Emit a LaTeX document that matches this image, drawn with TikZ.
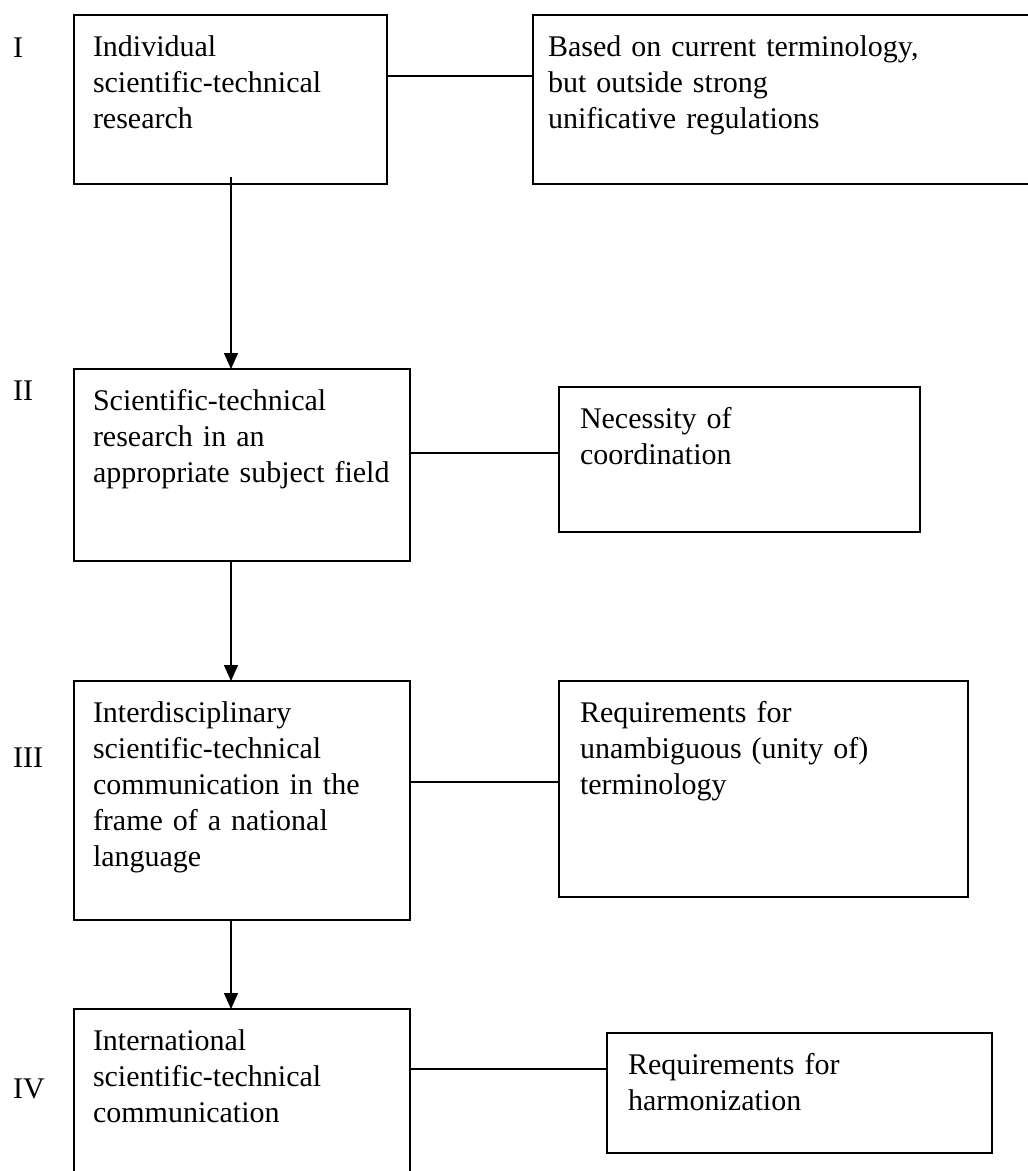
\documentclass[tikz,border=0pt]{standalone}
\usepackage{fontspec}
\setmainfont{Liberation Serif}
\usetikzlibrary{arrows.meta, positioning}

\begin{document}
\begin{tikzpicture}[x=1pt, y=1pt,
    box/.style={rectangle, draw, line width=1.5pt, anchor=north west, inner xsep=19pt, inner ysep=0pt, outer sep=0pt, align=left, text height=41pt, font=\fontsize{30}{36}\selectfont},
    level/.style={anchor=base west, inner sep=0pt, font=\fontsize{30}{36}\selectfont},
    arrow/.style={-{Triangle[width=14pt, length=16pt]}, line width=1.5pt},
    link/.style={line width=1.5pt}]
    \useasboundingbox (0,0) rectangle (1028,-1171);
    \clip (0,0) rectangle (1028,-1171);

    % left column
    \node (b1) [box, text width=275pt, text depth=128pt] at (74,-15) {Individual\\scientific-technical\\research};
    \node (b2) [box, below=185pt of b1.south west, anchor=north west, text width=298pt, text depth=151pt] {Scientific-technical\\research in an\\appropriate subject field};
    \node (b3) [box, below=120pt of b2.south west, anchor=north west, text width=298pt, text depth=198pt] {Interdisciplinary\\scientific-technical\\communication in the\\frame of a national\\language};
    \node (b4) [box, below=89pt of b3.south west, anchor=north west, text width=298pt, text depth=130pt] {International\\scientific-technical\\communication};

    % right column
    \node (r1) [box, right=146pt of b1.north east, anchor=north west, inner xsep=15pt, text width=477pt, text depth=128pt] {Based on current terminology,\\but outside strong\\unificative regulations};
    \node (r2) [box, right=149pt of b2.north east, anchor=north west, yshift=-18pt, inner xsep=21pt, text width=319pt, text depth=104pt] {Necessity of\\coordination};
    \node (r3) [box, right=149pt of b3.north east, anchor=north west, inner xsep=21pt, text width=367pt, text depth=175pt] {Requirements for\\unambiguous (unity of)\\terminology};
    \node (r4) [box, right=197pt of b4.north east, anchor=north west, yshift=-24pt, inner xsep=21pt, text width=343pt, text depth=79pt] {Requirements for\\harmonization};

    % levels
    \node (n1) [level] at (13,-57) {I};
    \node (n2) [level] at (13,-400) {II};
    \node (n3) [level] at (13,-767) {III};
    \node (n4) [level] at (13,-1098) {IV};

    \draw [arrow] ([xshift=0.5pt, yshift=7pt]b1.south) -- ([xshift=0.5pt]b1.south |- b2.north);
    \draw [arrow] ([xshift=-11pt]b2.south) -- ([xshift=-11pt]b3.north);
    \draw [arrow] ([xshift=-11pt]b3.south) -- ([xshift=-11pt]b4.north);

    \draw [link] ([yshift=23.5pt]b1.east) -- ([yshift=23.5pt]b1.east -| r1.west);
    \draw [link] ([yshift=12pt]b2.east) -- ([yshift=12pt]b2.east -| r2.west);
    \draw [link] ([yshift=18.5pt]b3.east) -- ([yshift=18.5pt]b3.east -| r3.west);
    \draw [link] ([yshift=24pt]r4.west -| b4.east) -- ([yshift=24pt]r4.west);
\end{tikzpicture}
\end{document}
